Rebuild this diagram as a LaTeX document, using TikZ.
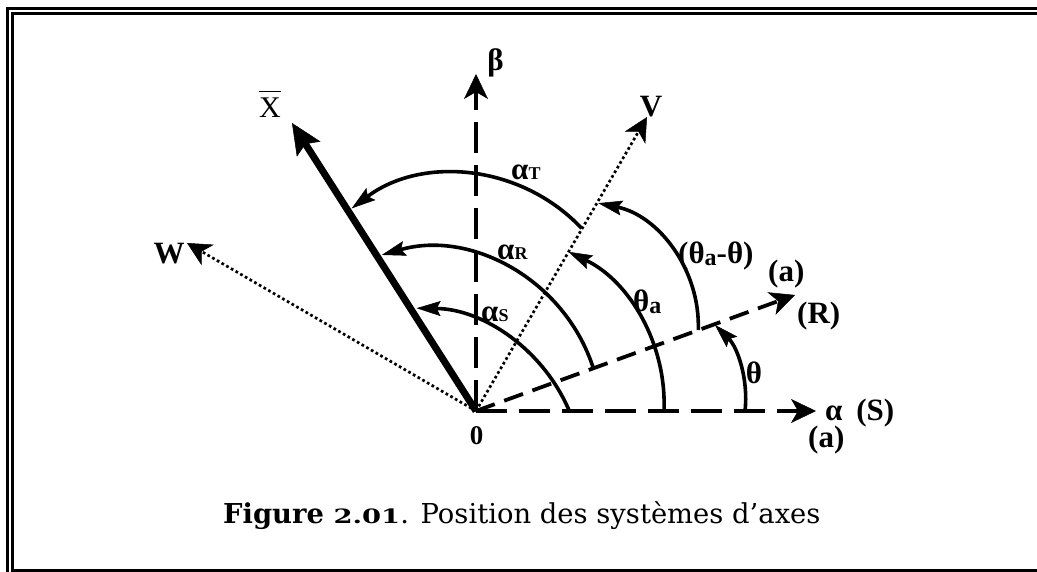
\documentclass[tikz,border=0pt]{standalone}
\usepackage{fontspec}
\setmainfont{Liberation Serif}
\newfontfamily\capfont{DejaVu Serif}
\usetikzlibrary{arrows.meta}
\newcommand\subcap[1]{{\fontsize{18}{20}\selectfont #1}}
\newcommand\suba{\raisebox{-2pt}{\fontsize{24}{26}\selectfont a}}
\begin{document}
\begin{tikzpicture}[x=1pt,y=1pt,
  axisline/.style={line width=4pt, dash pattern=on 31pt off 12pt, -{Stealth[length=25pt,width=24pt,inset=7pt,line width=0.5pt]}},
  raxis/.style={line width=3.8pt, dash pattern=on 20pt off 10pt, -{Stealth[length=25pt,width=24pt,inset=7pt,line width=0.5pt]}},
  dotline/.style={line width=2.7pt, dash pattern=on 2.7pt off 2.7pt, -{Stealth[length=24pt,width=24pt,inset=7pt,line width=0.5pt]}},
  xbar/.style={line width=7pt, -{Stealth[length=31pt,width=28pt,inset=6pt,line width=0.5pt]}},
  anglearc/.style={line width=3.6pt, -{Stealth[length=24pt,width=15pt,inset=4pt,line width=0.5pt]}},
  lbl/.style={inner sep=0pt, font=\fontsize{31}{36}\selectfont\bfseries},
  framethick/.style={line width=2.7pt},
]
\useasboundingbox (0,0) rectangle (1037,572);
\clip (0,0) rectangle (1037,572);
% frame
\draw[framethick] (7.5,-40) -- (7.5,563.3) -- (1100,563.3);
\draw[framethick] (1100,1.5) -- (12.3,1.5) -- (12.3,558.3) -- (1100,558.3);
% coordinates
\coordinate (O) at (476,161);
\coordinate (aTip) at (816,161);
\coordinate (bTip) at (476,498);
\coordinate (rTip) at (795,277);
\coordinate (xTip) at (292,449);
\coordinate (vTip) at (647,455);
\coordinate (wTip) at (187,329);
% axes
\draw[dotline] (O) -- (vTip);
\draw[dotline] (O) -- (wTip);
\draw[axisline] (O) -- (aTip);
\draw[axisline] (O) -- (bTip);
\draw[raxis] (O) -- (rTip);
\draw[xbar] (O) -- (xTip);
% arcs
\coordinate (sS) at (569.3,161);
\coordinate (sR) at (593.4,203.6);
\coordinate (sT) at (581.6,343.7);
\coordinate (sTa) at (664,161);
\coordinate (sTd) at (698.3,242);
\coordinate (sTh) at (745,161);
\draw[anglearc] (sS) arc[start angle=22.9, end angle=89.2, radius=168.3];
\draw[anglearc] (sR) arc[start angle=17.8, end angle=105.8, radius=172.8];
\draw[anglearc] (sT) arc[start angle=43.3, end angle=126.8, radius=173.3];
\draw[anglearc] (sTa) arc[start angle=-2.34, end angle=64.3, radius=169];
\draw[anglearc] (sTd) arc[start angle=-1.8, end angle=78.3, radius=125.5];
\draw[anglearc] (sTh) arc[start angle=-6.5, end angle=45, radius=104.9];
% labels
\node[lbl, anchor=base] (lbeta) at (495.5,501) {β};
\node[inner sep=0pt, font=\fontsize{30}{36}\selectfont, anchor=base] (lx) at (270,454.7) {X};
\draw[line width=1.8pt] ([yshift=6pt]lx.north west) -- ([yshift=6pt]lx.north east);
\node[lbl, anchor=base] (lv) at (651,455.3) {V};
\node[lbl, anchor=base] (lw) at (169,308.7) {W};
\node[lbl, anchor=base west] (laT) at (511,392) {α\subcap{T}};
\node[lbl, anchor=base west] (laR) at (497,312) {α\subcap{R}};
\node[lbl, anchor=base west] (laS) at (481,250) {α\subcap{S}};
\node[lbl, anchor=base west] (lta) at (633,260.3) {θ\suba};
\node[lbl, anchor=base west] (ltd) at (678,308) {(θ\suba-θ)};
\node[lbl, anchor=base west] (la1) at (768,290) {(a)};
\node[lbl, anchor=base west] (lR) at (797,248) {(R)};
\node[lbl, anchor=base] (lth) at (754,188.7) {θ};
\node[lbl, anchor=base west] (lS) at (825,151) {α\hspace{0.45em}(S)};
\node[lbl, anchor=base west] (la2) at (808,124.5) {(a)};
\node[lbl, anchor=base, font=\fontsize{27}{30}\selectfont\bfseries] (l0) at (476.7,127) {0};
% caption
\node[inner sep=0pt, anchor=base west] (cap) at (223,48.7) {\capfont\fontsize{27.4}{32}\selectfont\textbf{Figure \scalebox{1}[0.72]{2.01}}. Position des systèmes d’axes};
\end{tikzpicture}
\end{document}
